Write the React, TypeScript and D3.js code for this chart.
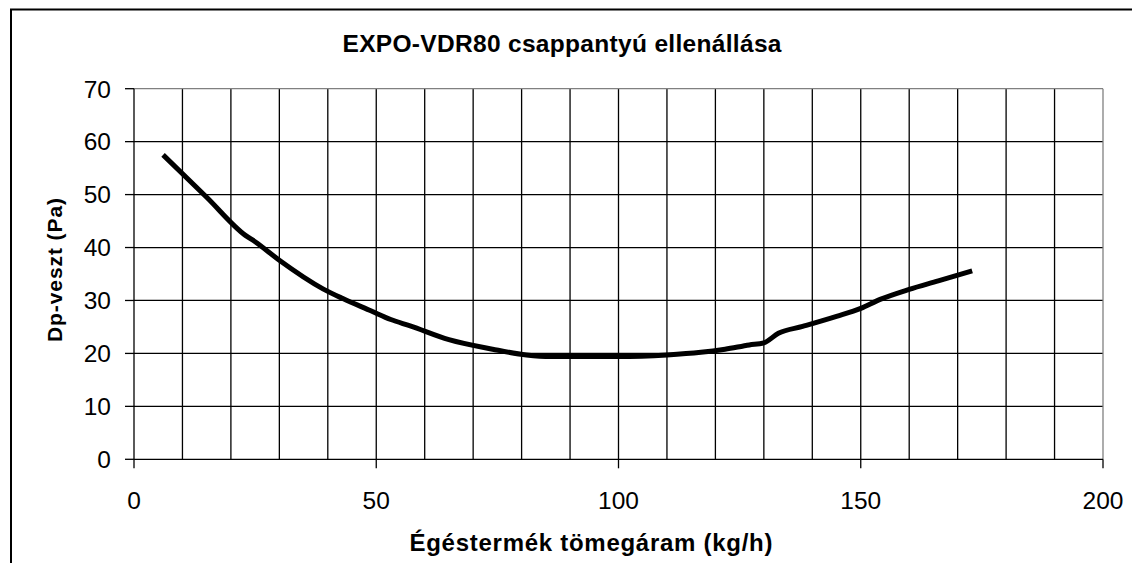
import React from "react";
import * as d3 from "d3";

// mass flow (kg/h) and pressure drop (Pa)
const flow = [6, 15, 23, 25, 30, 39, 43, 49, 53, 57, 65, 74, 81, 86, 100, 110, 117, 122, 127, 130, 133, 138, 145, 150, 154, 160, 166, 173];
const dp = [57.5, 49.5, 42.3, 41.1, 37.6, 32.2, 30.4, 28, 26.4, 25.2, 22.6, 20.8, 19.7, 19.4, 19.4, 19.7, 20.2, 20.8, 21.6, 22.0, 23.8, 25.1, 27.0, 28.5, 30.2, 32.1, 33.7, 35.6];

const xTicks = [0, 50, 100, 150, 200];
const yTicks = [0, 10, 20, 30, 40, 50, 60, 70];
const xGrid = d3.range(10, 200, 10);

const title = "EXPO-VDR80 csappantyú ellenállása";
const xTitle = "Égéstermék tömegáram (kg/h)";
const yTitle = "Dp-veszt (Pa)";

const font = "'Liberation Sans', Arial, sans-serif";

export default function App() {
  const width = 1132;
  const height = 563;
  const left = 134;
  const right = 1103;
  const top = 88.7;
  const bottom = 459.3;

  const x = d3.scaleLinear().domain([0, 200]).range([left, right]);
  const y = d3.scaleLinear().domain([0, 70]).range([bottom, top]);

  const pts: [number, number][] = flow.map((f, i) => [f, dp[i]]);
  const line = d3
    .line<[number, number]>()
    .x((d) => x(d[0]))
    .y((d) => y(d[1]))
    .curve(d3.curveMonotoneX);

  return (
    <svg
      width={width}
      height={height}
      style={{ position: "absolute", left: 0, top: 0, background: "#fff" }}
      fontFamily={font}
    >
      <rect x={0} y={0} width={width} height={height} fill="#fff" />
      {/* chart frame, cut by the picture edge */}
      <path d={`M11,${height + 5} L11,9.5 L${width + 5},9.5`} fill="none" stroke="#000" strokeWidth={2} />

      {/* grid */}
      {yTicks.slice(1, -1).map((t) => (
        <line key={"h" + t} x1={left} x2={right} y1={y(t)} y2={y(t)} stroke="#000" strokeWidth={1.3} />
      ))}
      {xGrid.map((t) => (
        <line key={"v" + t} x1={x(t)} x2={x(t)} y1={top} y2={bottom} stroke="#000" strokeWidth={1.3} />
      ))}
      {/* plot border top/right */}
      <line x1={left} x2={right} y1={top} y2={top} stroke="#808080" strokeWidth={1.3} />
      <line x1={right} x2={right} y1={top} y2={bottom} stroke="#808080" strokeWidth={1.3} />

      {/* axes */}
      <line x1={left} x2={left} y1={top} y2={bottom} stroke="#000" strokeWidth={1.3} />
      <line x1={left} x2={right} y1={bottom} y2={bottom} stroke="#000" strokeWidth={1.3} />
      {yTicks.map((t) => (
        <g key={"yt" + t}>
          <line x1={left - 9} x2={left} y1={y(t)} y2={y(t)} stroke="#000" strokeWidth={1.3} />
          <text x={111} y={y(t)} dy="0.36em" textAnchor="end" fontSize={24.5} fill="#000">
            {t}
          </text>
        </g>
      ))}
      {xTicks.map((t) => (
        <g key={"xt" + t}>
          <line x1={x(t)} x2={x(t)} y1={bottom} y2={bottom + 9} stroke="#000" strokeWidth={1.3} />
          <text x={x(t)} y={509} textAnchor="middle" fontSize={24.5} fill="#000">
            {t}
          </text>
        </g>
      ))}

      {/* series */}
      <path d={line(pts) || ""} fill="none" stroke="#000" strokeWidth={5} strokeLinejoin="round" />

      {/* titles */}
      <text x={562} y={52} textAnchor="middle" fontSize={24.5} fontWeight="bold" textLength={439} lengthAdjust="spacing">
        {title}
      </text>
      <text x={591} y={551} textAnchor="middle" fontSize={24} fontWeight="bold" textLength={363} lengthAdjust="spacing">
        {xTitle}
      </text>
      <text
        transform="translate(62,270) rotate(-90)"
        textAnchor="middle"
        fontSize={21}
        fontWeight="bold"
        textLength={144}
        lengthAdjust="spacing"
      >
        {yTitle}
      </text>
    </svg>
  );
}
